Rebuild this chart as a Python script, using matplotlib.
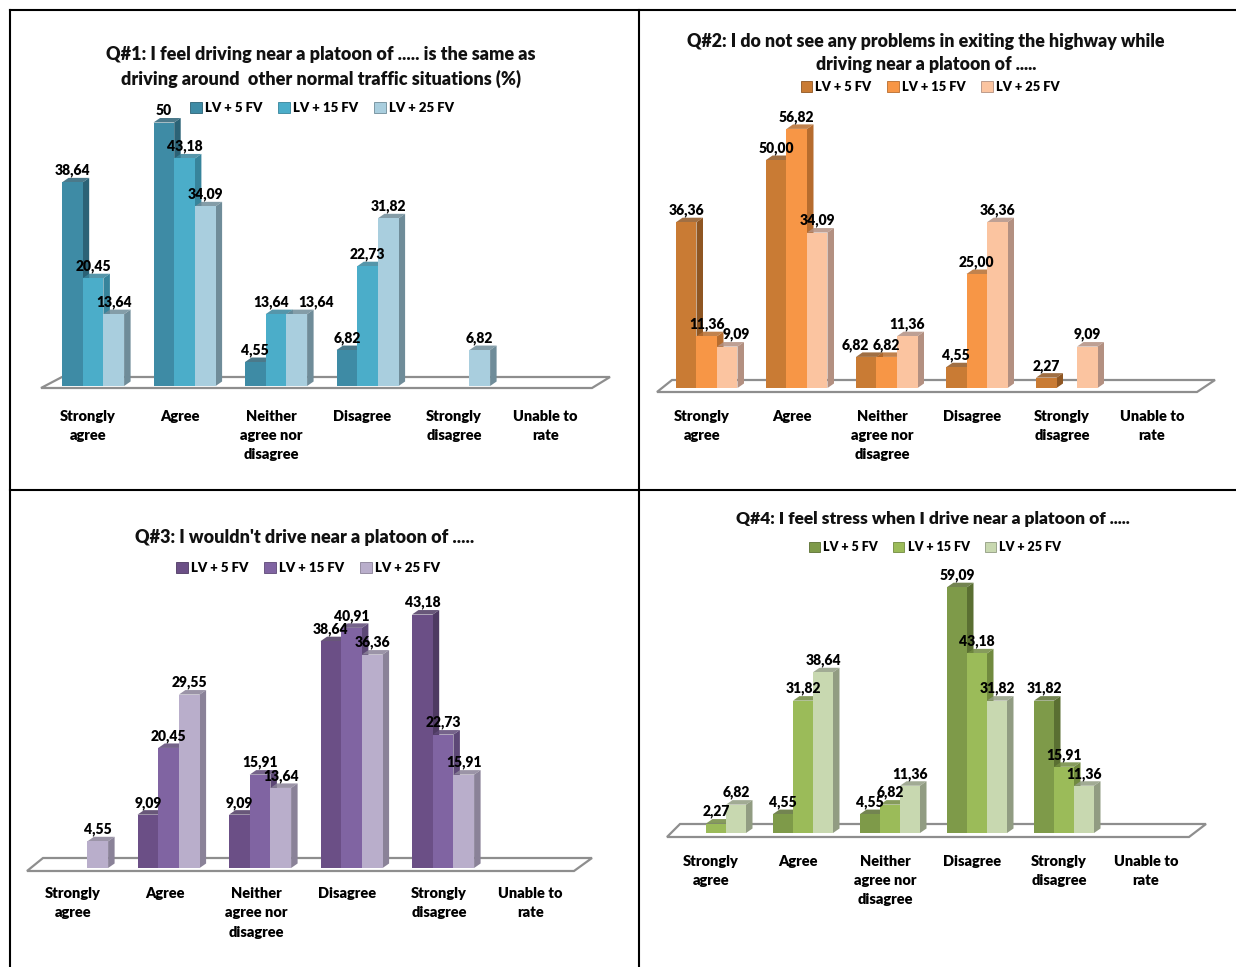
import matplotlib
matplotlib.use('Agg')
import matplotlib.pyplot as plt
from matplotlib.lines import Line2D
from matplotlib.patches import Patch

plt.rcParams['font.family'] = ['Lato', 'DejaVu Sans']
plt.rcParams['font.weight'] = 800

W, H = 1236, 967

categories = ['Strongly\nagree', 'Agree', 'Neither\nagree nor\ndisagree',
              'Disagree', 'Strongly\ndisagree', 'Unable to\nrate']
series_names = ['LV + 5 FV', 'LV + 15 FV', 'LV + 25 FV']

q1_fv5 = [38.64, 50, 4.55, 6.82, 0, 0]
q1_fv15 = [20.45, 43.18, 13.64, 22.73, 0, 0]
q1_fv25 = [13.64, 34.09, 13.64, 31.82, 6.82, 0]

q2_fv5 = [36.36, 50.00, 6.82, 4.55, 2.27, 0]
q2_fv15 = [11.36, 56.82, 6.82, 25.00, 0, 0]
q2_fv25 = [9.09, 34.09, 11.36, 36.36, 9.09, 0]

q3_fv5 = [0, 9.09, 9.09, 38.64, 43.18, 0]
q3_fv15 = [0, 20.45, 15.91, 40.91, 22.73, 0]
q3_fv25 = [4.55, 29.55, 13.64, 36.36, 15.91, 0]

q4_fv5 = [0, 4.55, 4.55, 59.09, 31.82, 0]
q4_fv15 = [2.27, 31.82, 6.82, 43.18, 15.91, 0]
q4_fv25 = [6.82, 38.64, 11.36, 31.82, 11.36, 0]

# one dict per chart: pixel layout of the panel, colours as (front, side) pairs
panels = [
    dict(title='Q#1: I feel driving near a platoon of ..... is the same as\n'
               'driving around  other normal traffic situations (%)',
         title_xy=(321, 67), title_size=13, legend_xy=(322, 108), legend_size=9.5,
         values=[q1_fv5, q1_fv15, q1_fv25],
         colors=[('#3E8BA5', '#2B6276'), ('#4BADC9', '#37849B'), ('#A9CEDE', '#6F8C99')],
         x0=62, pitch=91.5, bar_w=20.7, base=386, scale=5.27, top=20,
         floor=[(41, 388), (592, 388), (610, 377), (62, 377)], label_y=416, label_dx=26,
         trim=True, nudge={(2, 1): -5, (2, 2): 19}),
    dict(title='Q#2: I do not see any problems in exiting the highway while\n'
               'driving near a platoon of .....',
         title_xy=(926, 53), title_size=12.75, legend_xy=(930, 87), legend_size=9.3,
         values=[q2_fv5, q2_fv15, q2_fv25],
         colors=[('#C97B34', '#8F5622'), ('#F79646', '#B66C2E'), ('#FBC4A0', '#B39081')],
         x0=676, pitch=90, bar_w=20.5, base=388, scale=4.56, top=20,
         floor=[(657, 392), (1197, 392), (1215, 380), (672, 380)], label_y=417, label_dx=26,
         trim=False, nudge={(2, 0): -11, (0, 2): 9}),
    dict(title="Q#3: I wouldn't drive near a platoon of .....",
         title_xy=(305, 538), title_size=13, legend_xy=(308, 568), legend_size=9.5,
         values=[q3_fv5, q3_fv15, q3_fv25],
         colors=[('#6B4F86', '#4E3A62'), ('#8064A2', '#5D4876'), ('#B9AECB', '#8A8298')],
         x0=46, pitch=91.5, bar_w=20.7, base=868, scale=5.87, top=500,
         floor=[(27, 871), (574, 871), (592, 858), (43, 858)], label_y=895, label_dx=27,
         trim=False, nudge={}),
    dict(title='Q#4: I feel stress when I drive near a platoon of .....',
         title_xy=(933, 519), title_size=12.5, legend_xy=(935, 547), legend_size=9,
         values=[q4_fv5, q4_fv15, q4_fv25],
         colors=[('#7E9A49', '#5A6F32'), ('#9BBB59', '#718A3F'), ('#C8D8B0', '#919C82')],
         x0=686, pitch=87, bar_w=20, base=833, scale=4.16, top=500,
         floor=[(667, 837), (1189, 837), (1206, 824), (680, 824)], label_y=862, label_dx=25,
         trim=False, nudge={}),
]

depth_x, depth_y = 6.5, 4.5


def value_text(v, trim):
    if trim and v == int(v):
        return str(int(v))
    return f'{v:.2f}'.replace('.', ',')


fig = plt.figure(figsize=(W / 100, H / 100), dpi=100, facecolor='white')

for p in panels:
    pitch, scale = p['pitch'], p['scale']
    left = p['x0'] - 30
    right = left + 6.4 * pitch
    # x data is the category index, y data is the percentage
    ax = fig.add_axes([left / W, 1 - p['base'] / H, (right - left) / W, (p['base'] - p['top']) / H])
    ax.set_xlim((left - p['x0']) / pitch, (right - p['x0']) / pitch)
    ax.set_ylim(0, (p['base'] - p['top']) / scale)
    ax.patch.set_visible(False)

    # floor of the 3D chart
    fx = [(x - p['x0']) / pitch for x, y in p['floor']]
    fy = [(p['base'] - y) / scale for x, y in p['floor']]
    ax.fill(fx, fy, facecolor='white', edgecolor='#8E8E8E', linewidth=1.6, clip_on=False, zorder=1)

    w = p['bar_w'] / pitch
    dx, dy = depth_x / pitch, depth_y / scale
    z = 2
    for i in range(len(categories)):
        for j, vals in enumerate(p['values']):
            v = vals[i]
            if v == 0:
                continue
            front, side = p['colors'][j]
            x = i + j * w
            # side and top faces first, the next bar's front covers them
            ax.fill([x + w, x + w + dx, x + w + dx, x + w], [0, dy, v + dy, v],
                    color=side, linewidth=0, clip_on=False, zorder=z)
            ax.fill([x, x + w, x + w + dx, x + dx], [v, v, v + dy, v + dy],
                    color=side, alpha=0.85, linewidth=0, clip_on=False, zorder=z)
            ax.bar(x, v, width=w, align='edge', color=front, linewidth=0, clip_on=False, zorder=z + 1)
            z += 2

    # value labels above the bars
    for i in range(len(categories)):
        for j, vals in enumerate(p['values']):
            v = vals[i]
            if v == 0:
                continue
            x = i + (j + 0.5) * w + p['nudge'].get((i, j), 0) / pitch
            ax.text(x, v + 12 / scale, value_text(v, p['trim']), ha='center', va='center',
                    fontsize=10, color='black', clip_on=False, zorder=100)

    ax.set_xticks([i + p['label_dx'] / pitch for i in range(len(categories))])
    ax.set_xticklabels(categories, fontsize=10.5, linespacing=1.55)
    ax.tick_params(axis='x', length=0, pad=p['label_y'] - p['base'] - 13)
    ax.set_yticks([])
    for s in ax.spines.values():
        s.set_visible(False)

    fig.text(p['title_xy'][0] / W, 1 - p['title_xy'][1] / H, p['title'], ha='center', va='center',
             fontsize=p['title_size'], linespacing=1.45, color='#111111')

    handles = [Patch(facecolor=c[0], edgecolor=c[1], linewidth=0.6, label=n)
               for c, n in zip(p['colors'], series_names)]
    fig.legend(handles=handles, loc='center',
               bbox_to_anchor=(p['legend_xy'][0] / W, 1 - p['legend_xy'][1] / H),
               ncol=3, frameon=False, fontsize=p['legend_size'], handlelength=0.9, handleheight=0.9,
               handletextpad=0.25, columnspacing=1.2, borderpad=0)

# frame lines between the four charts
for x1, y1, x2, y2 in [(10, 10, W, 10), (10, 490, W, 490), (10, 10, 10, H), (639, 10, 639, H)]:
    fig.add_artist(Line2D([x1 / W, x2 / W], [1 - y1 / H, 1 - y2 / H], color='black', linewidth=1.5))

fig.savefig('out.png', dpi=100)
